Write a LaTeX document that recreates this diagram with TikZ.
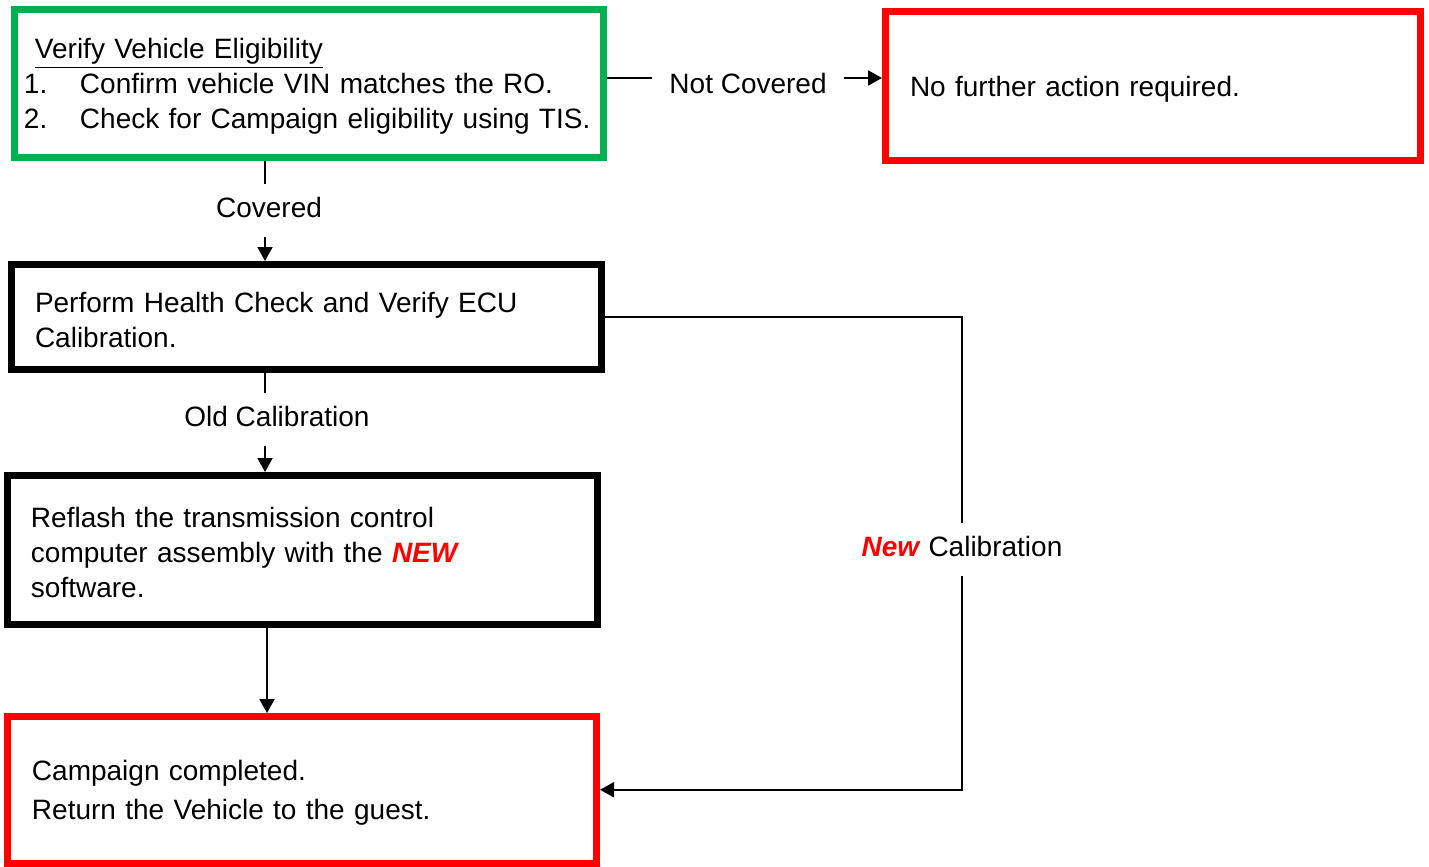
\documentclass[tikz,border=0pt]{standalone}
\usepackage{fontspec}
\setmainfont{Liberation Sans}
\usetikzlibrary{arrows.meta}
\definecolor{okgreen}{RGB}{0,176,80}
\definecolor{alertred}{RGB}{255,0,0}
\newcommand{\redword}[1]{\textcolor{alertred}{\textbf{\textit{#1}}}}
\tikzset{
 stepbox/.style={draw,line width=3.5pt,inner xsep=0pt,inner ysep=0pt,align=left,font=\fontsize{14}{17.5}\selectfont,
  execute at begin node={\rule{0pt}{13pt}}},
 link/.style={line width=1pt,-{Triangle[length=7pt,width=7.5pt]}},
 linklabel/.style={fill=white,inner xsep=4.5pt,inner ysep=6.75pt,text height=10pt,text depth=3pt,yshift=-1.5pt,font=\fontsize{14}{17.5}\selectfont}
}

\begin{document}
\begin{tikzpicture}[x=.5pt,y=-.5pt]
\useasboundingbox (0,0) rectangle (1429,867);
% columns and rows of the connectors
\coordinate (cvx) at (265,0);
\coordinate (rfx) at (267,0);
\coordinate (ncx) at (962,0);
\coordinate (ncy) at (0,78);
% boxes
\node[stepbox,draw=okgreen,minimum width=294.5pt,minimum height=74pt,text width=285pt] (verify) at (309,83.5)
 {\hspace*{5.5pt}\underline{Verify Vehicle Eligibility}\\
  \makebox[28pt][l]{1.}Confirm vehicle VIN matches the RO.\\
  \makebox[28pt][l]{2.}Check for Campaign eligibility using TIS.};
\node[stepbox,draw=alertred,minimum width=267.5pt,minimum height=74.5pt,text width=243pt] (nocover) at (1153,86)
 {No further action required.};
\node[stepbox,minimum width=295pt,minimum height=52.5pt,text width=271.5pt] (health) at (306.5,317)
 {Perform Health Check and Verify ECU\\ Calibration.};
\node[stepbox,minimum width=295pt,minimum height=74.5pt,text width=271.5pt] (reflash) at (302.5,550)
 {Reflash the transmission control\\ computer assembly with the \redword{NEW}\\ software.};
\node[stepbox,draw=alertred,minimum width=294.5pt,minimum height=73.25pt,text width=270pt] (campaign) at (302,789.75)
 {Campaign completed.\\[2pt] Return the Vehicle to the guest.};
% connectors
\draw[link] (verify.south -| cvx) -- node[linklabel,pos=.46,xshift=2pt]{Covered} (health.north -| cvx);
\draw[link] (health.south -| cvx) -- node[linklabel,pos=.444,xshift=6pt]{Old Calibration} (reflash.north -| cvx);
\draw[link] (reflash.south -| rfx) -- (campaign.north -| rfx);
\draw[link] (verify.east |- ncy) -- node[linklabel,pos=.513,yshift=-2.5pt,inner xsep=8.5pt,inner ysep=2pt]{Not Covered} (nocover.west |- ncy);
\draw[link] (health.east) -- (health.east -| ncx) -- node[linklabel,pos=.486]{\redword{New} Calibration} (campaign.east -| ncx) -- (campaign.east);
\end{tikzpicture}
\end{document}
